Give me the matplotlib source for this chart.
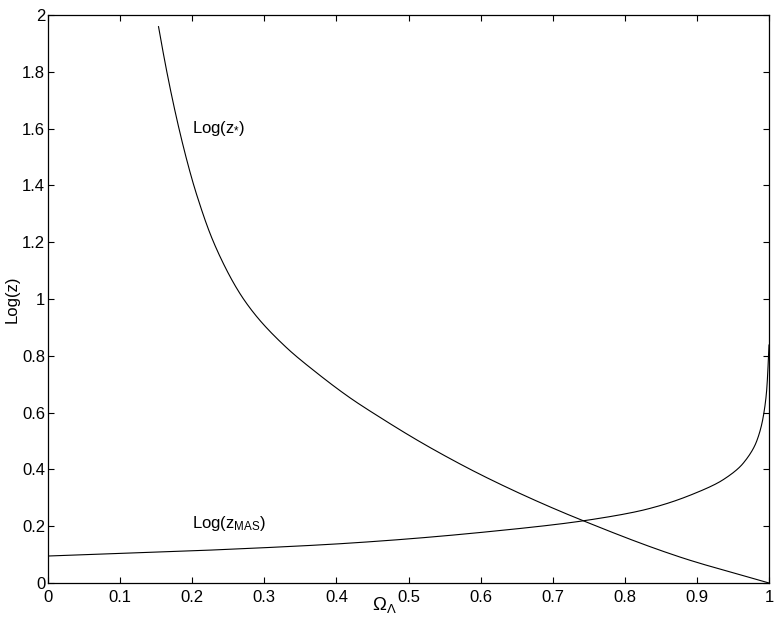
import matplotlib
matplotlib.use("Agg")
import matplotlib.pyplot as plt
import numpy as np

# Log(z*) curve
zstar_x = [0.1533, 0.1623, 0.1738, 0.1865, 0.2004, 0.2085, 0.2247, 0.243, 0.266,
           0.2895, 0.3311, 0.3727, 0.4189, 0.465, 0.5114, 0.5576, 0.6037, 0.673,
           0.7425, 0.8766, 1.0]
zstar_y = [1.959, 1.833, 1.689, 1.549, 1.416, 1.349, 1.231, 1.126, 1.020,
           0.938, 0.828, 0.740, 0.652, 0.576, 0.504, 0.438, 0.377, 0.294,
           0.219, 0.0913, 0.0]

# Log(z_MAS) curve
zmas_x = [0.0, 0.208, 0.416, 0.624, 0.7425, 0.830, 0.900, 0.936, 0.964, 0.983,
          0.992, 0.9968, 0.9993, 1.0]
zmas_y = [0.095, 0.114, 0.140, 0.184, 0.219, 0.2595, 0.3187, 0.363, 0.421, 0.500,
          0.585, 0.680, 0.797, 0.838]

xticks = [0, 0.1, 0.2, 0.3, 0.4, 0.5, 0.6, 0.7, 0.8, 0.9, 1]
xticklabels = ["0", "0.1", "0.2", "0.3", "0.4", "0.5", "0.6", "0.7", "0.8", "0.9", "1"]
yticks = [0, 0.2, 0.4, 0.6, 0.8, 1.0, 1.2, 1.4, 1.6, 1.8, 2.0]
yticklabels = ["0", "0.2", "0.4", "0.6", "0.8", "1", "1.2", "1.4", "1.6", "1.8", "2"]

plt.rcParams['font.family'] = ['Liberation Sans', 'DejaVu Sans']
plt.rcParams['mathtext.fontset'] = 'custom'
plt.rcParams['mathtext.rm'] = 'Liberation Sans'
plt.rcParams['mathtext.it'] = 'Liberation Sans'
plt.rcParams['mathtext.bf'] = 'Liberation Sans'

fig = plt.figure(figsize=(7.81, 6.33), dpi=100)
ax = fig.add_axes([48/781, 50/633, 721/781, 568/633])


def pchip(xs, ys, n=40):
    xs = np.asarray(xs, float); ys = np.asarray(ys, float)
    k = len(xs)
    h = np.diff(xs); d = np.diff(ys) / h
    m = np.zeros(k)
    for i in range(1, k - 1):
        if d[i-1] * d[i] > 0:
            w1 = 2*h[i] + h[i-1]; w2 = h[i] + 2*h[i-1]
            m[i] = (w1 + w2) / (w1/d[i-1] + w2/d[i])
    m[0] = d[0]; m[-1] = d[-1]
    X = []; Y = []
    for i in range(k - 1):
        t = np.linspace(0, 1, n, endpoint=False)
        h00 = 2*t**3 - 3*t**2 + 1; h10 = t**3 - 2*t**2 + t
        h01 = -2*t**3 + 3*t**2; h11 = t**3 - t**2
        X.extend(xs[i] + t*h[i])
        Y.extend(h00*ys[i] + h10*h[i]*m[i] + h01*ys[i+1] + h11*h[i]*m[i+1])
    X.append(xs[-1]); Y.append(ys[-1])
    return np.array(X), np.array(Y)

# smooth drawing through the read points (x as a function of y)
yy, xx = pchip(zstar_y[::-1], zstar_x[::-1])
ax.plot(xx, yy, color='black', lw=0.8)
yy2, xx2 = pchip(zmas_y, zmas_x)
ax.plot(xx2, yy2, color='black', lw=0.8)

ax.set_xlim(0, 1)
ax.set_ylim(0, 2)
ax.set_xticks(xticks)
ax.set_xticklabels(xticklabels)
ax.set_yticks(yticks)
ax.set_yticklabels(yticklabels)
ax.tick_params(direction='in', top=True, right=True, length=4.6, width=0.8,
               labelsize=12)
ax.tick_params(axis='x', pad=5)
ax.tick_params(axis='y', pad=2)
for s in ax.spines.values():
    s.set_linewidth(0.9)

ax.text(0.2, 1.6, r'Log(z$_{*}$)', fontsize=12, va='center', ha='left')
ax.text(0.2, 0.21, r'Log(z$_{\mathregular{MAS}}$)', fontsize=12, va='center', ha='left')

ax.set_xlabel(r'$\Omega_{\Lambda}$', fontsize=13.5)
ax.xaxis.set_label_coords(0.466, -0.021)
ax.xaxis.label.set_va('top')
ax.set_ylabel('Log(z)', fontsize=12)
ax.yaxis.set_label_coords(-0.05, 0.5)
ax.yaxis.label.set_va('center')

fig.savefig('out.png', dpi=100)
